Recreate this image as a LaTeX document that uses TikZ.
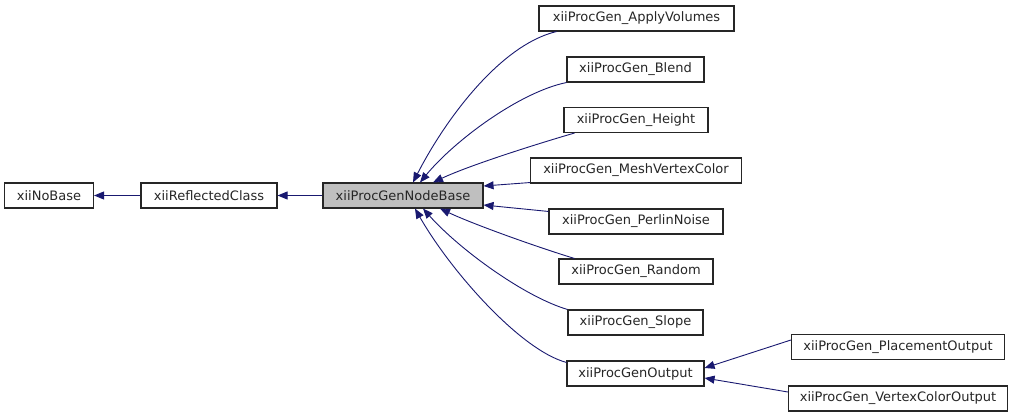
\documentclass[tikz,border=0pt]{standalone}
\usepackage{fontspec}
\setmainfont{DejaVu Sans}
\usetikzlibrary{arrows.meta,calc}
\definecolor{edgeblue}{HTML}{191970}
\definecolor{basegray}{HTML}{BFBFBF}
\tikzset{
  cls/.style={draw=black!85, line width=1.1pt, fill=white, minimum height=25pt, inner sep=0pt,
    font=\fontsize{13}{15}\selectfont, text=black!85},
  edge/.style={draw=edgeblue, line width=0.9pt, -{Triangle[length=10pt,width=8pt,fill=edgeblue]}}
}
\begin{document}
\begin{tikzpicture}[x=1pt,y=-1pt]
\useasboundingbox (0,0) rectangle (1013,417);
\node[cls, minimum width=89pt] (nobase) at (49,195.5) {xiiNoBase};
\node[cls, minimum width=136pt] (refl) at (209,195.5) {xiiReflectedClass};
\node[cls, minimum width=160pt, fill=basegray] (base) at (403,195.5) {xiiProcGenNodeBase};
\node[cls, minimum width=195pt] (apply) at (636.5,18.5) {xiiProcGen\_ApplyVolumes};
\node[cls, minimum width=137pt] (blend) at (635.5,69.5) {xiiProcGen\_Blend};
\node[cls, minimum width=144pt] (height) at (636,120) {xiiProcGen\_Height};
\node[cls, minimum width=211pt] (mesh) at (636,170.5) {xiiProcGen\_MeshVertexColor};
\node[cls, minimum width=174pt] (perlin) at (636,221.5) {xiiProcGen\_PerlinNoise};
\node[cls, minimum width=154pt] (random) at (636,271.5) {xiiProcGen\_Random};
\node[cls, minimum width=135pt] (slope) at (635.5,322.5) {xiiProcGen\_Slope};
\node[cls, minimum width=137pt] (output) at (635.5,373.5) {xiiProcGenOutput};
\node[cls, minimum width=213pt] (place) at (898,347) {xiiProcGen\_PlacementOutput};
\node[cls, minimum width=219pt] (vcol) at (898,398.5) {xiiProcGen\_VertexColorOutput};

\draw[edge] (refl.west) -- (nobase.east);
\draw[edge] (base.west) -- (refl.east);
\draw[edge] ($(apply.south west)+(18,0)$) .. controls (500,45) and (445,120) .. ($(base.north)+(10,0)$);
\draw[edge] (blend.south west) .. controls (520,92) and (455,140) .. ($(base.north)+(17,0)$);
\draw[edge] ($(height.south west)+(11,0)$) .. controls (540,143) and (470,165) .. ($(base.north)+(30,0)$);
\draw[edge] ($(mesh.south west)+(0,-1)$) -- ($(base.east)+(0,-9.5)$);
\draw[edge] ($(perlin.north west)+(0,3)$) -- ($(base.east)+(0,9.5)$);
\draw[edge] ($(random.north west)+(16,0)$) .. controls (540,248) and (475,225) .. ($(base.south)+(37,0)$);
\draw[edge] (slope.north west) .. controls (525,297) and (460,250) .. ($(base.south)+(20,0)$);
\draw[edge] ($(output.north west)+(0,2)$) .. controls (520,350) and (450,270) .. ($(base.south)+(12,0)$);
\draw[edge] ($(place.west)+(0,-7)$) -- ($(output.east)+(0,-5.5)$);
\draw[edge] ($(vcol.west)+(0,-6.5)$) -- ($(output.east)+(0,4.5)$);
\end{tikzpicture}
\end{document}
